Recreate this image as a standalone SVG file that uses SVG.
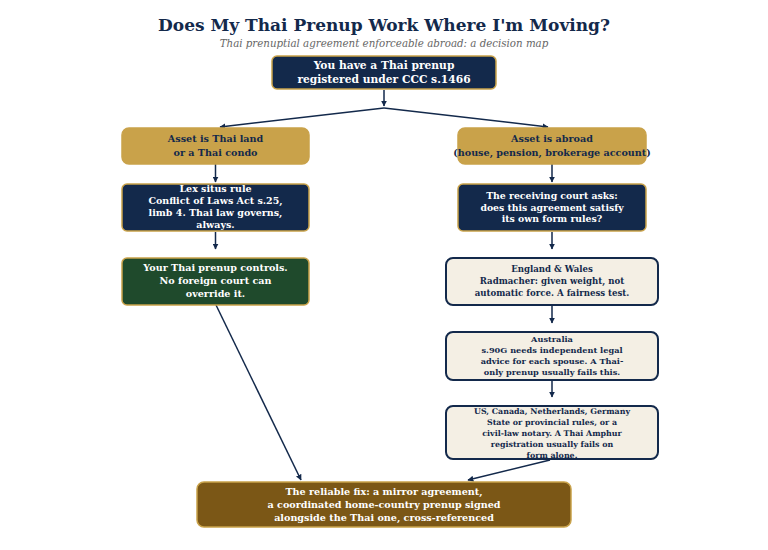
<svg xmlns="http://www.w3.org/2000/svg" width="768" height="550" viewBox="0 0 768 550">
<defs>
<marker id="ah" viewBox="0 0 10 10" refX="9" refY="5" markerWidth="6" markerHeight="6" orient="auto" markerUnits="userSpaceOnUse">
<path d="M0,0 L10,5 L0,10 z" fill="#13294b"/>
</marker>
<style>
text{font-family:"DejaVu Serif","Liberation Serif",serif;font-weight:bold;text-anchor:middle}
.title{font-size:17px;fill:#13294b}
.sub{font-size:10.25px;font-style:italic;font-weight:normal;fill:#666}
.navy rect{fill:#13294b;stroke:#c9a24a;stroke-width:1.5}
.gold rect{fill:#c9a24a;stroke:#c9a24a;stroke-width:1.5}
.green rect{fill:#1f4a2c;stroke:#c9a24a;stroke-width:1.5}
.cream rect{fill:#f4efe4;stroke:#13294b;stroke-width:2}
.brown rect{fill:#7b5716;stroke:#c9a24a;stroke-width:1.5}
.navy text,.green text,.brown text{fill:#ffffff}
.gold text,.cream text{fill:#13294b}
.edges line{stroke:#13294b;stroke-width:1.5;marker-end:url(#ah)}
</style>
</defs>
<rect width="768" height="550" fill="#ffffff"/>
<text class="title" x="384" y="31">Does My Thai Prenup Work Where I'm Moving?</text>
<text class="sub" x="384" y="47">Thai prenuptial agreement enforceable abroad: a decision map</text>

<g class="edges">
<line x1="384" y1="90" x2="384" y2="106"/>
<line x1="384" y1="108" x2="220" y2="127"/>
<line x1="384" y1="108" x2="548" y2="127"/>
<line x1="215.5" y1="164" x2="215.5" y2="182"/>
<line x1="215.5" y1="232" x2="215.5" y2="249"/>
<line x1="552" y1="164" x2="552" y2="182"/>
<line x1="552" y1="232" x2="552" y2="249"/>
<line x1="552" y1="305" x2="552" y2="323"/>
<line x1="552" y1="380" x2="552" y2="397"/>
<line x1="216" y1="305" x2="301" y2="480"/>
<line x1="550" y1="460" x2="468" y2="480"/>
</g>

<g id="start" class="navy">
<rect x="272" y="56" width="224" height="33" rx="5"/>
<text font-size="10.7" x="384" y="69">You have a Thai prenup<tspan x="384" dy="14">registered under CCC s.1466</tspan></text>
</g>

<g id="thai-asset" class="gold">
<rect x="122" y="128" width="187" height="36" rx="7"/>
<text font-size="9.6" x="215.5" y="142">Asset is Thai land<tspan x="215.5" dy="14">or a Thai condo</tspan></text>
</g>

<g id="lex-situs" class="navy">
<rect x="122" y="184" width="187" height="47" rx="5"/>
<text font-size="9.5" x="215.5" y="192">Lex situs rule<tspan x="215.5" dy="12">Conflict of Laws Act s.25,</tspan><tspan x="215.5" dy="12">limb 4. Thai law governs,</tspan><tspan x="215.5" dy="12">always.</tspan></text>
</g>

<g id="thai-controls" class="green">
<rect x="122" y="258" width="187" height="47" rx="5"/>
<text font-size="9.6" x="215.5" y="271">Your Thai prenup controls.<tspan x="215.5" dy="13">No foreign court can</tspan><tspan x="215.5" dy="13">override it.</tspan></text>
</g>

<g id="abroad-asset" class="gold">
<rect x="458" y="128" width="188" height="36" rx="7"/>
<text font-size="9.6" x="552" y="142">Asset is abroad<tspan x="552" dy="14">(house, pension, brokerage account)</tspan></text>
</g>

<g id="receiving-court" class="navy">
<rect x="458" y="184" width="188" height="47" rx="5"/>
<text font-size="9.3" x="552" y="199">The receiving court asks:<tspan x="552" dy="11.7">does this agreement satisfy</tspan><tspan x="552" dy="11.7">its own form rules?</tspan></text>
</g>

<g id="england" class="cream">
<rect x="446" y="258" width="212" height="47" rx="7"/>
<text font-size="8.6" x="552" y="272">England &amp; Wales<tspan x="552" dy="12">Radmacher: given weight, not</tspan><tspan x="552" dy="12">automatic force. A fairness test.</tspan></text>
</g>

<g id="australia" class="cream">
<rect x="446" y="332" width="212" height="48" rx="7"/>
<text font-size="8.2" x="552" y="342">Australia<tspan x="552" dy="11">s.90G needs independent legal</tspan><tspan x="552" dy="11">advice for each spouse. A Thai-</tspan><tspan x="552" dy="11">only prenup usually fails this.</tspan></text>
</g>

<g id="civil-law" class="cream">
<rect x="446" y="406" width="212" height="53" rx="7"/>
<text font-size="7.9" x="552" y="413.5">US, Canada, Netherlands, Germany<tspan x="552" dy="11">State or provincial rules, or a</tspan><tspan x="552" dy="11">civil-law notary. A Thai Amphur</tspan><tspan x="552" dy="11">registration usually fails on</tspan><tspan x="552" dy="11">form alone.</tspan></text>
</g>

<g id="mirror-fix" class="brown">
<rect x="197" y="482" width="374" height="45" rx="7"/>
<text font-size="9.6" x="384" y="495">The reliable fix: a mirror agreement,<tspan x="384" dy="12.8">a coordinated home-country prenup signed</tspan><tspan x="384" dy="12.8">alongside the Thai one, cross-referenced</tspan></text>
</g>
</svg>
